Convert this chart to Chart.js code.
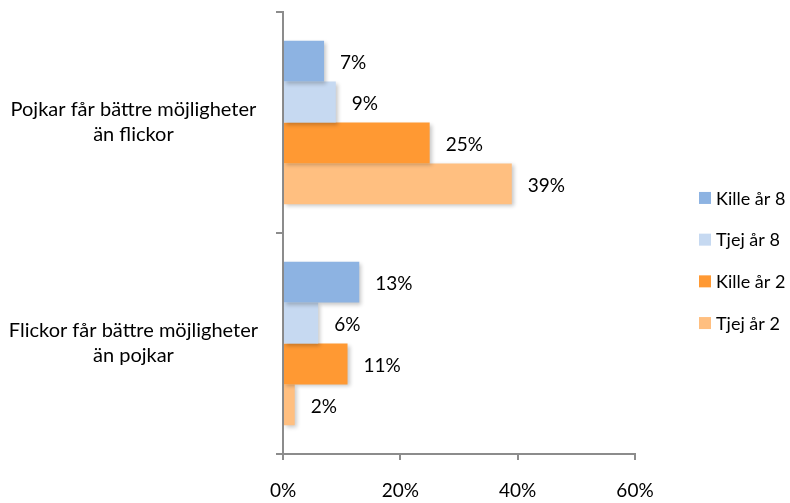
<!DOCTYPE html>
<html lang="sv">
<head>
    <meta charset="UTF-8">
    <title>Möjligheter</title>
    <style>
        html, body { margin: 0; padding: 0; background: #fff; }
        #wrap { width: 790px; height: 503px; }
    </style>
</head>
<body>
    <div id="wrap"><canvas id="myChart" width="790" height="503"></canvas></div>

    <script src="https://cdn.jsdelivr.net/npm/chart.js@4.4.1/dist/chart.umd.min.js"></script>
    <script type="text/javascript">
        // Kategorier (två rader text per kategori)
        const categories = [
            ['Pojkar får bättre möjligheter', 'än flickor'],
            ['Flickor får bättre möjligheter', 'än pojkar']
        ];
        const seriesNames = ['Kille år 8', 'Tjej år 8', 'Kille år 2', 'Tjej år 2'];
        const killeAr8 = [7, 13];
        const tjejAr8 = [9, 6];
        const killeAr2 = [25, 11];
        const tjejAr2 = [39, 2];
        const seriesColors = ['#8DB3E2', '#C6D9F1', '#FF9933', '#FFBF80'];
        const xTicks = [0, 20, 40, 60];

        const axisGrey = '#8C8C8C';
        const font = 'Lato, "Open Sans", sans-serif';

        // Skugga under staplarna
        const shadowPlugin = {
            id: 'shadow',
            beforeDatasetsDraw(chart) {
                const c = chart.ctx;
                c.save();
                c.shadowColor = 'rgba(0,0,0,0.22)';
                c.shadowBlur = 4;
                c.shadowOffsetX = 2;
                c.shadowOffsetY = 2;
            },
            afterDatasetsDraw(chart) {
                chart.ctx.restore();
            }
        };

        // Procentetiketter till höger om staplarna
        const valueLabels = {
            id: 'valueLabels',
            afterDatasetsDraw(chart) {
                const c = chart.ctx;
                c.save();
                c.font = '19px ' + font;
                c.fillStyle = '#000';
                c.textAlign = 'left';
                c.textBaseline = 'middle';
                chart.data.datasets.forEach((ds, i) => {
                    chart.getDatasetMeta(i).data.forEach((bar, j) => {
                        c.fillText(ds.data[j] + '%', bar.x + 16, bar.y + 2);
                    });
                });
                c.restore();
            }
        };

        // Egen förklaring till höger
        const sideLegend = {
            id: 'sideLegend',
            afterDraw(chart) {
                const c = chart.ctx;
                const a = chart.chartArea;
                const x = a.right + 64;
                const mid = (a.top + a.bottom) / 2 + 27.5;
                const step = 41.7;
                c.save();
                c.font = '18px ' + font;
                c.textBaseline = 'middle';
                c.textAlign = 'left';
                chart.data.datasets.forEach((ds, i) => {
                    const y = mid + (i - 1.5) * step;
                    c.fillStyle = ds.backgroundColor;
                    c.fillRect(x, y - 6, 12, 12);
                    c.fillStyle = '#000';
                    c.fillText(ds.label, x + 17, y + 1);
                });
                c.restore();
            }
        };

        const ctx = document.getElementById('myChart');
        const myChart = new Chart(ctx, {
            type: 'bar',
            data: {
                labels: categories,
                datasets: [killeAr8, tjejAr8, killeAr2, tjejAr2].map((d, i) => ({
                    label: seriesNames[i],
                    data: d,
                    backgroundColor: seriesColors[i],
                    borderWidth: 0,
                    categoryPercentage: 0.74,
                    barPercentage: 1.0
                }))
            },
            options: {
                indexAxis: 'y',
                responsive: false,
                animation: false,
                layout: { padding: { top: 12, right: 155, left: 0, bottom: 0 } },
                plugins: {
                    legend: { display: false },
                    tooltip: { enabled: false }
                },
                scales: {
                    x: {
                        min: 0,
                        max: 60,
                        afterBuildTicks(scale) {
                            scale.ticks = xTicks.map(v => ({ value: v }));
                        },
                        afterFit(scale) {
                            scale.height = 49;
                            scale.paddingLeft = 0;
                            scale.paddingRight = 0;
                        },
                        grid: { display: true, drawOnChartArea: false, tickLength: 6, color: axisGrey, lineWidth: 2 },
                        border: { color: axisGrey, width: 2 },
                        ticks: {
                            padding: 19,
                            color: '#000',
                            font: { family: font, size: 19 },
                            callback: v => v + '%'
                        }
                    },
                    y: {
                        afterFit(scale) {
                            scale.width = 283;
                            scale.paddingTop = 0;
                            scale.paddingBottom = 0;
                        },
                        grid: { display: true, drawOnChartArea: false, tickLength: 7, color: axisGrey, lineWidth: 2 },
                        border: { color: axisGrey, width: 2 },
                        ticks: {
                            crossAlign: 'center',
                            padding: 18,
                            color: '#000',
                            font: { family: font, size: 20, lineHeight: 1.25 }
                        }
                    }
                }
            },
            plugins: [shadowPlugin, valueLabels, sideLegend]
        });
    </script>
</body>
</html>
